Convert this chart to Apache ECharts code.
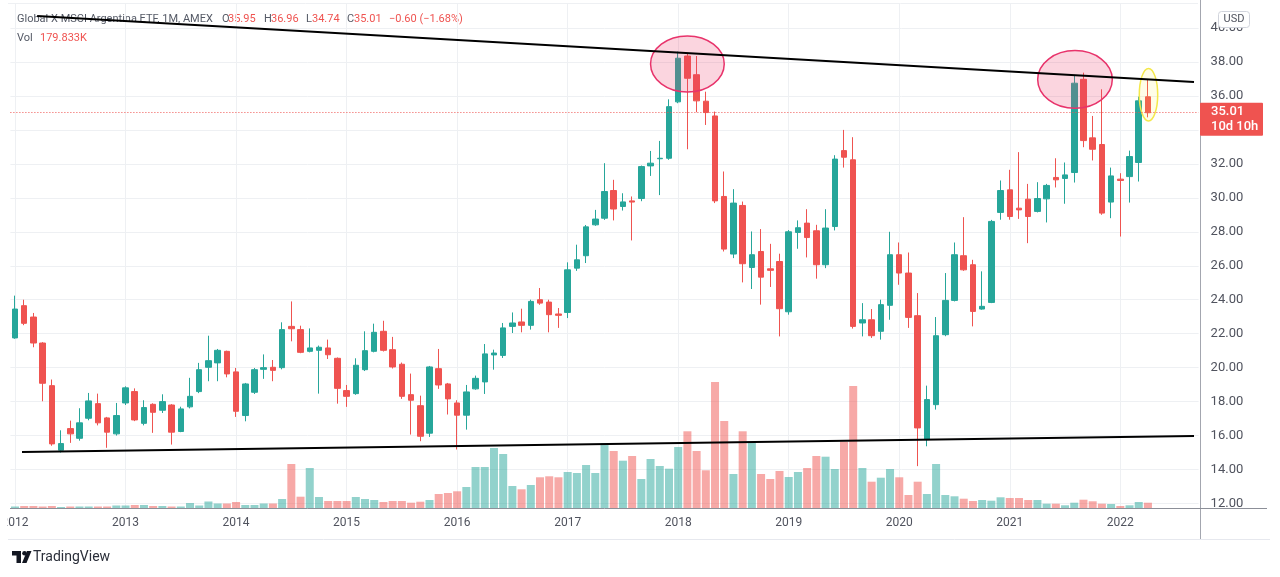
<!DOCTYPE html>
<html>
<head>
<meta charset="utf-8">
<script src="https://cdn.jsdelivr.net/npm/echarts@6/dist/echarts.min.js"></script>
<style>
  html, body { margin: 0; padding: 0; background: #fff; }
  #chart { width: 1280px; height: 577px; }
</style>
</head>
<body>
<div id="chart"></div>
<script>
// ARGT monthly, Jan 2012 .. Apr 2022
const years = ['2012', '2013', '2014', '2015', '2016', '2017', '2018', '2019', '2020', '2021', '2022'];

const opens = [
  21.75, 23.65, 22.98, 21.45, 18.94, 15.14, 16.41, 15.84, 17.02, 17.88, 17.04, 16.1,
  17.92, 18.59, 16.72, 17.84, 17.49, 17.8, 16.24, 17.69, 18.59, 20.02, 20.28, 20.96,
  19.75, 17.18, 18.55, 19.9, 20.02, 20.0, 22.43, 22.24, 20.96, 21.02, 21.16, 20.55,
  18.65, 18.47, 19.88, 20.96, 22.14, 21.06, 20.2, 18.41, 17.76, 16.14, 19.94, 19.04,
  17.92, 17.2, 18.75, 19.16, 20.75, 20.72, 22.43, 22.69, 22.49, 24.0, 23.86, 23.16,
  23.25, 25.86, 26.59, 28.41, 28.8, 30.43, 29.49, 29.82, 29.96, 31.88, 32.3, 32.33,
  35.65, 38.35, 37.25, 35.69, 34.82, 30.08, 26.69, 29.55, 25.9, 26.84, 25.82, 26.25,
  23.29, 27.96, 28.51, 28.06, 26.06, 28.31, 32.78, 32.24, 22.63, 22.82, 22.14, 23.67,
  26.65, 25.57, 23.06, 15.76, 17.82, 21.94, 23.96, 26.59, 26.06, 23.45, 23.84, 29.14,
  30.47, 29.39, 29.92, 29.2, 29.94, 31.2, 31.14, 31.49, 36.98, 33.53, 33.14, 29.75,
  31.1, 31.25, 32.08, 35.95
];
const closes = [
  23.45, 22.61, 21.45, 19.08, 15.51, 15.53, 16.1, 16.75, 18.04, 16.75, 16.2, 17.18,
  18.81, 16.92, 17.65, 17.37, 18.0, 16.2, 17.57, 18.31, 19.88, 20.41, 21.02, 19.63,
  17.43, 19.04, 19.88, 20.0, 19.84, 22.24, 22.29, 20.9, 21.16, 21.2, 20.76, 18.78,
  18.31, 20.14, 21.0, 22.08, 21.02, 20.04, 18.31, 18.08, 15.96, 20.04, 18.98, 18.16,
  17.2, 18.57, 19.37, 20.81, 20.86, 22.34, 22.63, 22.49, 23.9, 23.8, 23.12, 23.08,
  25.76, 26.35, 28.29, 28.75, 30.37, 29.34, 29.76, 29.75, 31.84, 32.04, 32.33, 35.37,
  38.22, 37.04, 35.71, 35.02, 29.82, 26.98, 29.69, 26.12, 26.65, 25.33, 25.73, 23.47,
  28.0, 28.24, 27.66, 26.06, 28.22, 32.28, 32.39, 22.43, 22.82, 21.88, 23.71, 26.65,
  25.57, 22.96, 16.45, 18.12, 21.88, 23.96, 26.65, 25.76, 23.31, 23.61, 28.61, 30.43,
  28.9, 29.29, 28.9, 29.96, 30.73, 31.06, 31.35, 36.75, 33.37, 32.86, 29.1, 31.29,
  31.02, 32.43, 35.71, 35.01
];
const lows = [
  21.7, 22.5, 21.2, 18.02, 15.4, 15.0, 15.57, 15.7, 16.9, 16.6, 15.28, 16.0,
  17.8, 16.85, 16.6, 16.16, 17.33, 15.47, 16.2, 17.6, 18.5, 19.2, 19.2, 19.43,
  17.1, 16.84, 18.45, 19.34, 19.2, 19.9, 21.55, 20.85, 20.9, 18.47, 20.51, 17.88,
  17.69, 18.4, 19.8, 20.9, 20.95, 19.95, 18.16, 16.06, 15.67, 15.92, 18.75, 17.24,
  15.18, 16.35, 18.7, 18.45, 19.88, 20.57, 22.04, 22.08, 22.24, 23.7, 22.08, 22.34,
  22.92, 25.7, 26.16, 28.35, 28.7, 28.67, 29.25, 27.49, 29.8, 31.29, 30.16, 32.24,
  35.57, 32.86, 35.04, 34.29, 29.69, 26.84, 26.45, 25.02, 24.63, 23.71, 24.75, 21.84,
  23.12, 27.0, 26.49, 25.24, 25.86, 28.08, 31.78, 22.3, 21.84, 21.75, 21.65, 22.82,
  24.88, 22.34, 14.2, 15.37, 17.53, 21.85, 23.9, 25.7, 22.43, 23.41, 23.8, 28.71,
  28.71, 28.76, 27.33, 29.14, 28.55, 30.61, 29.65, 30.9, 32.98, 32.2, 29.0, 28.8,
  27.72, 29.72, 30.96, 34.74
];
const highs = [
  24.24, 24.0, 23.22, 21.5, 19.3, 16.31, 16.88, 17.61, 18.51, 18.47, 17.1, 17.92,
  18.9, 18.78, 18.08, 17.9, 18.43, 17.85, 17.7, 19.4, 20.28, 21.88, 21.1, 21.0,
  19.98, 19.1, 19.98, 20.78, 20.45, 22.67, 23.9, 22.47, 22.31, 21.3, 21.65, 20.6,
  18.98, 20.55, 22.14, 22.59, 22.76, 21.81, 20.3, 19.65, 18.35, 20.1, 21.1, 19.1,
  18.08, 18.98, 19.53, 21.39, 21.06, 22.63, 23.25, 23.47, 24.0, 24.69, 24.0, 23.51,
  26.2, 27.24, 28.4, 29.29, 32.04, 31.06, 30.27, 30.08, 31.9, 32.76, 33.35, 35.8,
  38.61, 38.5, 38.35, 36.25, 35.08, 31.55, 30.51, 29.78, 28.02, 28.16, 27.29, 26.71,
  28.1, 28.67, 29.33, 28.41, 29.33, 32.51, 34.0, 33.57, 23.8, 23.45, 24.0, 28.0,
  27.37, 26.78, 24.39, 18.94, 22.98, 25.57, 27.37, 28.86, 26.35, 25.67, 28.7, 31.02,
  31.65, 32.69, 30.82, 30.92, 30.82, 32.33, 32.08, 37.24, 37.37, 34.82, 36.39, 31.78,
  31.45, 32.78, 35.96, 36.96
];
// volume in thousands of shares
const volumes = [
  51, 68, 68, 51, 68, 34, 51, 51, 51, 51, 51, 85,
  85, 102, 102, 68, 68, 51, 51, 170, 85, 221, 153, 153,
  204, 102, 102, 153, 153, 306, 1496, 384, 1360, 374, 238, 238,
  238, 374, 306, 272, 204, 238, 238, 180, 214, 272, 476, 510,
  568, 714, 1394, 1394, 2040, 1836, 748, 636, 782, 1044, 1078, 1044,
  1224, 1190, 1462, 1190, 2210, 1938, 1608, 1768, 986, 1666, 1428, 1336,
  2074, 2608, 1938, 1282, 4284, 2958, 1156, 2608, 2254, 1156, 986, 1258,
  1054, 1224, 1360, 1768, 1744, 1326, 2254, 4148, 1360, 894, 1030, 1326,
  1044, 442, 894, 476, 1496, 442, 398, 316, 238, 272, 248, 364,
  340, 340, 272, 272, 146, 146, 92, 180, 282, 228, 146, 136,
  68, 92, 204, 179.833
];
const priceTicks = [12, 40, 2];
const lastPrice = 35.01;

// drawings: [monthIndex, price] pairs and ellipses [month, price, rxMonths, ryPrice]
const resistance = [[2.4, 40.71], [128.0, 36.82]];
const support = [[0.76, 15.03], [128.0, 15.97]];
const topZones = [[73.0, 37.88, 4.0, 1.65], [115.08, 36.97, 4.05, 1.7]];
const lastZone = [[123.06, 36.07, 1.0, 1.55]];

const UP = '#26a69a', DOWN = '#ef5350';
const FONT = 'Roboto';

// monthly categories incl. a few empty months on the right
const months = [];
years.concat(['2023']).forEach(y => {
  for (let m = 1; m <= 12; m++) months.push(y + '-' + (m < 10 ? '0' + m : m));
});
const cats = months.slice(0, 129);

const candles = opens.map((o, i) => [o, closes[i], lows[i], highs[i]]);
const volBars = volumes.map((v, i) => ({
  value: v,
  itemStyle: { color: closes[i] >= opens[i] ? 'rgba(38,166,154,0.5)' : 'rgba(239,83,80,0.5)' }
}));

const L = 10.4, R = 81.4;

const chart = echarts.init(document.getElementById('chart'));

const ellipseItem = (fill, stroke) => (params, api) => {
  const c = api.coord([api.value(0), api.value(1)]);
  const rx = api.size([api.value(2), 0])[0];
  const ry = api.size([0, api.value(3)])[1];
  return {
    type: 'ellipse',
    shape: { cx: c[0], cy: c[1], rx: rx, ry: ry },
    style: { fill: fill, stroke: stroke, lineWidth: 1.5 }
  };
};

const headerText = (x, y, text, color) => ({
  type: 'text', x: x, y: y,
  style: { text: text, fill: color, font: '11px ' + FONT, textVerticalAlign: 'middle' }
});

const option = {
  animation: false,
  backgroundColor: '#ffffff',
  textStyle: { fontFamily: FONT },
  grid: [
    { left: L, right: R, top: 3, bottom: 69, outerBoundsMode: 'none' },
    { left: L, right: R, top: 28, bottom: 73.5, outerBoundsMode: 'none' }
  ],
  xAxis: [{
    type: 'category', gridIndex: 0, data: cats, boundaryGap: true,
    axisLine: { show: true, lineStyle: { color: '#8c8f98', width: 1 } },
    axisTick: { show: false },
    splitLine: { show: false },
    axisLabel: {
      interval: (idx, val) => val.endsWith('-01'),
      formatter: val => val.slice(0, 4),
      margin: 9, color: '#50535e', fontSize: 12, fontFamily: FONT
    }
  }, {
    type: 'category', gridIndex: 1, data: cats, boundaryGap: true, show: false
  }, {
    type: 'value', gridIndex: 1, min: -0.5, max: 128.5, show: false
  }],
  yAxis: [{
    type: 'value', gridIndex: 0, min: 0, max: 17170, show: false, splitLine: { show: false }
  }, {
    type: 'value', gridIndex: 1, position: 'right',
    min: priceTicks[0], max: priceTicks[1], interval: priceTicks[2],
    axisLine: { show: false }, axisTick: { show: false },
    splitLine: { lineStyle: { color: '#eef0f3', width: 1 } },
    axisLabel: {
      margin: 12, color: '#50535e', fontSize: 13, fontFamily: FONT,
      formatter: v => v.toFixed(2)
    }
  }],
  series: [{
    type: 'bar', name: 'Vol', xAxisIndex: 0, yAxisIndex: 0,
    data: volBars, barWidth: 8, z: 1,
    markLine: {
      silent: true, symbol: 'none', z: 0, animation: false,
      label: { show: false },
      lineStyle: { color: '#eef0f3', type: 'solid', width: 1 },
      data: years.map(y => ({ xAxis: y + '-01' }))
    }
  }, {
    type: 'candlestick', name: 'ARGT', xAxisIndex: 1, yAxisIndex: 1,
    data: candles, barWidth: 6, z: 3,
    itemStyle: {
      color: UP, color0: DOWN, borderColor: UP, borderColor0: DOWN, borderWidth: 1
    },
    markLine: {
      silent: true, symbol: 'none', animation: false,
      label: { show: false },
      lineStyle: { color: DOWN, type: [1, 2], width: 1 },
      data: [{ yAxis: lastPrice }]
    }
  }, {
    type: 'custom', name: 'zones', xAxisIndex: 2, yAxisIndex: 1, clip: false, z: 4,
    data: topZones, encode: { x: 0, y: 1 },
    renderItem: ellipseItem('rgba(236,64,110,0.22)', '#e8336b')
  }, {
    type: 'custom', name: 'last', xAxisIndex: 2, yAxisIndex: 1, clip: false, z: 4,
    data: lastZone, encode: { x: 0, y: 1 },
    renderItem: ellipseItem('rgba(255,235,59,0.12)', '#f4e84a')
  }, {
    type: 'line', name: 'resistance', xAxisIndex: 2, yAxisIndex: 1, clip: false, z: 5,
    data: resistance, symbol: 'none', silent: true,
    lineStyle: { color: '#000', width: 2 }
  }, {
    type: 'line', name: 'support', xAxisIndex: 2, yAxisIndex: 1, clip: false, z: 5,
    data: support, symbol: 'none', silent: true,
    lineStyle: { color: '#000', width: 2 }
  }],
  graphic: []
};

chart.setOption(option);

// price tag next to the last price line
const py = chart.convertToPixel({ yAxisIndex: 1 }, lastPrice);

const gfx = [
  // pane borders
  { type: 'line', shape: { x1: 1200.5, y1: 0, x2: 1200.5, y2: 540 }, style: { stroke: '#a3a6af', lineWidth: 1 }, z: 10 },
  { type: 'line', shape: { x1: 1198, y1: 508.5, x2: 1267, y2: 508.5 }, style: { stroke: '#8c8f98', lineWidth: 1 }, z: 10 },
  { type: 'line', shape: { x1: 8, y1: 539.5, x2: 1270, y2: 539.5 }, style: { stroke: '#e6e8ee', lineWidth: 1 }, z: 10 },
  { type: 'line', shape: { x1: 8, y1: 3.5, x2: 1198, y2: 3.5 }, style: { stroke: '#eef0f3', lineWidth: 1 }, z: 0 },
  // left edge clips the first year label
  { type: 'rect', shape: { x: 0, y: 512, width: 7.5, height: 22 }, style: { fill: '#fff' }, z: 20 },
  // header
  headerText(17, 19, 'Global X MSCI Argentina ETF, 1M, AMEX', '#555a66'),
  headerText(222, 19, 'O', '#555a66'), headerText(228, 19, '35.95', DOWN),
  headerText(264, 19, 'H', '#555a66'), headerText(271, 19, '36.96', DOWN),
  headerText(306, 19, 'L', '#555a66'), headerText(312, 19, '34.74', DOWN),
  headerText(347, 19, 'C', '#555a66'), headerText(354, 19, '35.01', DOWN),
  headerText(389, 19, '\u22120.60 (\u22121.68%)', DOWN),
  headerText(17, 38, 'Vol', '#555a66'), headerText(40, 38, '179.833K', DOWN),
  // currency badge
  { type: 'rect', shape: { x: 1218.5, y: 11.5, width: 31, height: 16, r: 3 },
    style: { fill: '#fff', stroke: '#d1d4dc', lineWidth: 1 }, z: 20 },
  { type: 'text', x: 1234, y: 19.5, z: 21,
    style: { text: 'USD', fill: '#50535e', font: '11px ' + FONT, textAlign: 'center', textVerticalAlign: 'middle' } },
  // last price tag
  { type: 'rect', shape: { x: 1200, y: py - 10, width: 63, height: 33, r: 1 },
    style: { fill: DOWN }, z: 20 },
  { type: 'text', x: 1211, y: py - 0.5, z: 21,
    style: { text: '35.01', fill: '#fff', font: '500 13px ' + FONT, textVerticalAlign: 'middle' } },
  { type: 'text', x: 1211, y: py + 14.5, z: 21,
    style: { text: '10d 10h', fill: '#fff', font: '500 13px ' + FONT, textVerticalAlign: 'middle' } },
  // TradingView logo
  { type: 'polygon', shape: { points: [[12, 551], [21, 551], [21, 563], [16.5, 563], [16.5, 555.5], [12, 555.5]] },
    style: { fill: '#131722' }, z: 20 },
  { type: 'circle', shape: { cx: 24.5, cy: 553.3, r: 2.3 }, style: { fill: '#131722' }, z: 20 },
  { type: 'polygon', shape: { points: [[27, 551], [31.5, 551], [26.5, 563], [22, 563]] },
    style: { fill: '#131722' }, z: 20 },
  { type: 'text', x: 33, y: 557, z: 20,
    style: { text: 'TradingView', fill: '#2a2e39', font: '14px ' + FONT, textVerticalAlign: 'middle' } }
];

chart.setOption({ graphic: gfx });
</script>
</body>
</html>
